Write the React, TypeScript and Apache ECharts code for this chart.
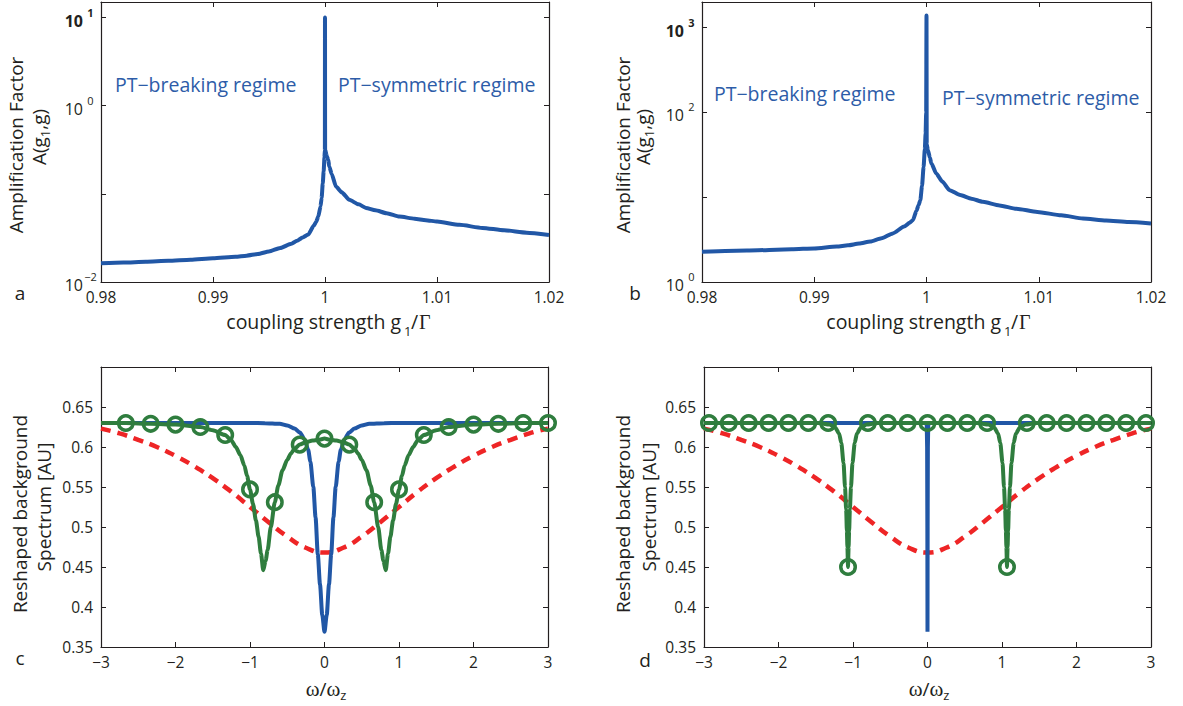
import React, { useEffect, useRef } from 'react';
import * as echarts from 'echarts';

// ---------------- data ----------------
// Panel a : amplification factor vs coupling strength g1/Γ
const couplingA = [0.980, 0.982, 0.984, 0.986, 0.988, 0.990, 0.992, 0.993, 0.994, 0.995, 0.996, 0.997, 0.9975, 0.998, 0.9985, 0.999, 0.9992, 0.9994, 0.9996, 0.9997, 0.9998, 0.99988, 0.99995, 0.99999, 1.0, 1.00001, 1.00015, 1.00029, 1.00038, 1.0006, 1.00098, 1.0015, 1.00217, 1.003, 1.00366, 1.0045, 1.0055, 1.00664, 1.008, 1.009, 1.01001, 1.012, 1.01405, 1.016, 1.018, 1.020];
const amplificationA = [0.0163, 0.0166, 0.0170, 0.0174, 0.0179, 0.0186, 0.0193, 0.0199, 0.0208, 0.0222, 0.0243, 0.0272, 0.0293, 0.032, 0.0345, 0.0436, 0.048, 0.0552, 0.072, 0.09, 0.132, 0.18, 0.26, 0.316, 10, 0.32, 0.27, 0.243, 0.204, 0.168, 0.121, 0.104, 0.0855, 0.076, 0.0693, 0.065, 0.0603, 0.0552, 0.0523, 0.0503, 0.0484, 0.0445, 0.0411, 0.0386, 0.0363, 0.0342];

// Panel b
const couplingB = [0.980, 0.984, 0.988, 0.990, 0.992, 0.993, 0.994, 0.995, 0.996, 0.997, 0.998, 0.9985, 0.99879, 0.9991, 0.9993, 0.99945, 0.9996, 0.99974, 0.99985, 0.99992, 0.99997, 1.0, 1.00002, 1.00013, 1.0003, 1.00044, 1.00087, 1.0014, 1.00206, 1.003, 1.004, 1.00502, 1.0065, 1.008, 1.00987, 1.012, 1.01393, 1.016, 1.018, 1.020];
const amplificationB = [2.27, 2.35, 2.43, 2.49, 2.62, 2.71, 2.84, 3.0, 3.28, 3.74, 4.5, 5.0, 5.36, 6.9, 8.1, 9.22, 13.5, 22.7, 37, 56.6, 100, 1390, 42, 35.7, 29.3, 24.9, 19.0, 15.3, 12.1, 10.6, 9.6, 8.81, 8.0, 7.3, 6.71, 6.11, 5.61, 5.32, 5.1, 4.91];

// labelled decades of the log axes
const decadesA = [-2, 0, 1];
const decadesB = [0, 2, 3];

// Red dashed background (panels c and d)
const omegaRed = [-3, -2.75, -2.5, -2.25, -2, -1.75, -1.5, -1.25, -1, -0.75, -0.5, -0.25, 0, 0.25, 0.5, 0.75, 1, 1.25, 1.5, 1.75, 2, 2.25, 2.5, 2.75, 3];
const spectrumRed = [0.623, 0.617, 0.609, 0.600, 0.589, 0.576, 0.561, 0.544, 0.525, 0.506, 0.488, 0.474, 0.468, 0.474, 0.488, 0.506, 0.525, 0.544, 0.561, 0.576, 0.589, 0.600, 0.609, 0.617, 0.623];

// Panel c blue
const omegaBlueC = [-3, -1.5, -1, -0.8, -0.6, -0.5, -0.4, -0.33, -0.27, -0.22, -0.19, -0.15, -0.12, -0.09, -0.06, -0.03, 0, 0.03, 0.06, 0.09, 0.12, 0.15, 0.19, 0.22, 0.27, 0.33, 0.4, 0.5, 0.6, 0.8, 1, 1.5, 3];
const spectrumBlueC = [0.630, 0.630, 0.630, 0.6298, 0.629, 0.627, 0.623, 0.618, 0.610, 0.597, 0.582, 0.550, 0.512, 0.466, 0.428, 0.390, 0.369, 0.390, 0.428, 0.466, 0.512, 0.550, 0.582, 0.597, 0.610, 0.618, 0.623, 0.627, 0.629, 0.6298, 0.630, 0.630, 0.630];

// Panel c green
const omegaGreenC = [-3, -2.667, -2.333, -2, -1.667, -1.5, -1.333, -1.25, -1.19, -1.13, -1.076, -1.04, -1.0, -0.96, -0.92, -0.885, -0.853, -0.822, -0.79, -0.764, -0.72, -0.667, -0.62, -0.563, -0.5, -0.45, -0.4, -0.333, -0.25, -0.16, -0.08, 0, 0.08, 0.16, 0.25, 0.333, 0.4, 0.45, 0.5, 0.563, 0.62, 0.667, 0.72, 0.764, 0.79, 0.822, 0.853, 0.885, 0.92, 0.96, 1.0, 1.04, 1.076, 1.13, 1.19, 1.25, 1.333, 1.5, 1.667, 2, 2.333, 2.667, 3];
const spectrumGreenC = [0.630, 0.630, 0.629, 0.628, 0.625, 0.621, 0.615, 0.608, 0.600, 0.590, 0.577, 0.564, 0.547, 0.529, 0.508, 0.488, 0.467, 0.446, 0.458, 0.471, 0.500, 0.531, 0.552, 0.571, 0.584, 0.592, 0.598, 0.603, 0.606, 0.608, 0.609, 0.6105, 0.609, 0.608, 0.606, 0.603, 0.598, 0.592, 0.584, 0.571, 0.552, 0.531, 0.500, 0.471, 0.458, 0.446, 0.467, 0.488, 0.508, 0.529, 0.547, 0.564, 0.577, 0.590, 0.600, 0.608, 0.615, 0.621, 0.625, 0.628, 0.629, 0.630, 0.630];
const omegaMarkC = [-2.667, -2.333, -2, -1.667, -1.333, -1, -0.667, -0.333, 0, 0.333, 0.667, 1, 1.333, 1.667, 2, 2.333, 2.667, 3];
const spectrumMarkC = [0.630, 0.629, 0.628, 0.625, 0.615, 0.547, 0.531, 0.603, 0.6105, 0.603, 0.531, 0.547, 0.615, 0.625, 0.628, 0.629, 0.630, 0.630];

// Panel d blue
const omegaBlueD = [-3, -0.02, -0.01, -0.005, -0.002, 0, 0.002, 0.005, 0.01, 0.02, 3];
const spectrumBlueD = [0.630, 0.630, 0.627, 0.600, 0.500, 0.369, 0.500, 0.600, 0.627, 0.630, 0.630];

// Panel d green
const omegaGreenD = [-3, -1.467, -1.317, -1.237, -1.187, -1.157, -1.127, -1.107, -1.092, -1.082, -1.075, -1.067, -1.059, -1.052, -1.042, -1.027, -1.007, -0.977, -0.947, -0.897, -0.817, -0.667, 0.667, 0.817, 0.897, 0.947, 0.977, 1.007, 1.027, 1.042, 1.052, 1.059, 1.067, 1.075, 1.082, 1.092, 1.107, 1.127, 1.157, 1.187, 1.237, 1.317, 1.467, 3];
const spectrumGreenD = [0.630, 0.630, 0.628, 0.624, 0.617, 0.605, 0.580, 0.550, 0.522, 0.495, 0.475, 0.450, 0.475, 0.495, 0.522, 0.550, 0.580, 0.605, 0.617, 0.624, 0.628, 0.630, 0.630, 0.628, 0.624, 0.617, 0.605, 0.580, 0.550, 0.522, 0.495, 0.475, 0.450, 0.475, 0.495, 0.522, 0.550, 0.580, 0.605, 0.617, 0.624, 0.628, 0.630, 0.630];
const omegaMarkD = [-2.933, -2.667, -2.4, -2.133, -1.867, -1.6, -1.333, -1.067, -0.8, -0.533, -0.267, 0, 0.267, 0.533, 0.8, 1.067, 1.333, 1.6, 1.867, 2.133, 2.4, 2.667, 2.933];
const spectrumMarkD = [0.63, 0.63, 0.63, 0.63, 0.63, 0.63, 0.63, 0.45, 0.63, 0.63, 0.63, 0.63, 0.63, 0.63, 0.63, 0.45, 0.63, 0.63, 0.63, 0.63, 0.63, 0.63, 0.63];

// ---------------- styles ----------------
const FONT = '"Open Sans", "Noto Sans", sans-serif';
const SERIF = '"Liberation Serif", "DejaVu Serif", serif';
const INK = '#231f20';
const BLUE = '#2157a6';
const GREEN = '#2f7d3e';
const RED = '#ee2526';
const TEXT_BLUE = '#2d5ca8';

const pairs = (xs: number[], ys: number[]) => xs.map((x, i) => [x, ys[i]]);

const grids = [
  { left: 101, top: 2, width: 448, height: 280 },
  { left: 702, top: 2, width: 449, height: 280 },
  { left: 101, top: 367, width: 447, height: 280 },
  { left: 704, top: 367, width: 447, height: 280 },
];

const axisLine = { show: true, onZero: false, lineStyle: { color: INK, width: 1.2 } };
const axisTick = { show: true, inside: true, length: 5, lineStyle: { color: INK, width: 1 } };
const noSplit = { show: false };
const tickFont = { color: INK, fontFamily: FONT, fontSize: 15.5, lineHeight: 16 };

const minusFmt = (v: number) => {
  const s = String(parseFloat(v.toFixed(2)));
  return s.replace('-', '\u2212');
};

function xAxes(g: number, min: number, max: number, interval: number) {
  return [
    { type: 'value', gridIndex: g, position: 'bottom', min, max, interval, axisLine, axisTick, splitLine: noSplit, axisLabel: { ...tickFont, margin: 7, formatter: minusFmt } },
    { type: 'value', gridIndex: g, position: 'top', min, max, interval, axisLine, axisTick, splitLine: noSplit, axisLabel: { show: false } },
  ];
}

const logRich = {
  b: { fontSize: 16, fontFamily: FONT, color: INK, padding: [6, 0, 0, 0] },
  e: { fontSize: 11, fontFamily: FONT, color: INK, padding: [0, 0, 11, 0], width: 15, align: 'left' },
  bb: { fontSize: 16, fontFamily: FONT, color: INK, fontWeight: 'bold', padding: [6, 0, 0, 0] },
  eb: { fontSize: 11, fontFamily: FONT, color: INK, fontWeight: 'bold', padding: [0, 0, 11, 0], width: 15, align: 'left' },
};

function logYAxes(g: number, min: number, max: number, decades: number[]) {
  const top = decades[decades.length - 1];
  const fmt = (v: number) => {
    const l = Math.log10(v);
    const e = Math.round(l);
    if (Math.abs(l - e) > 1e-6 || decades.indexOf(e) < 0) return '';
    const ex = e < 0 ? '\u2212' + -e : String(e);
    return e === top ? `{bb|10}{eb|${ex}}` : `{b|10}{e|${ex}}`;
  };
  return [
    { type: 'log', logBase: 10, gridIndex: g, position: 'left', min, max, axisLine, axisTick, splitLine: noSplit, axisLabel: { margin: 3, formatter: fmt, rich: logRich } },
    { type: 'log', logBase: 10, gridIndex: g, position: 'right', min, max, axisLine, axisTick, splitLine: noSplit, axisLabel: { show: false } },
  ];
}

function linYAxes(g: number) {
  const fmt = (v: number) => (v > 0.66 ? '' : String(parseFloat(v.toFixed(2))));
  return [
    { type: 'value', gridIndex: g, position: 'left', min: 0.35, max: 0.7, interval: 0.05, axisLine, axisTick, splitLine: noSplit, axisLabel: { ...tickFont, margin: 8, formatter: fmt } },
    { type: 'value', gridIndex: g, position: 'right', min: 0.35, max: 0.7, interval: 0.05, axisLine, axisTick, splitLine: noSplit, axisLabel: { show: false } },
  ];
}

const subRich = {
  sub: { fontSize: 13, fontFamily: FONT, fill: INK, color: INK, padding: [11, 0, 0, 0] },
  w: { fontSize: 21, fontFamily: SERIF, fill: INK, color: INK },
};

function label(x: number, y: number, text: string, opts: any = {}) {
  const size = opts.size || 19;
  return {
    type: 'text',
    x,
    y,
    rotation: opts.rotate ? Math.PI / 2 : 0,
    silent: true,
    style: {
      text,
      fill: opts.color || INK,
      fontSize: size,
      fontFamily: opts.family || FONT,
      lineHeight: opts.lineHeight || Math.round(size * 1.1),
      align: opts.align || 'center',
      textAlign: opts.align || 'center',
      verticalAlign: 'middle',
      textVerticalAlign: 'middle',
      rich: subRich,
    },
  };
}

// "coupling strength g₁/Γ" built from pieces, anchored at the right end of "g"
function couplingTitle(gRight: number) {
  return [
    label(gRight, 321, 'coupling strength g', { align: 'right', size: 19.5 }),
    label(gRight + 3, 331, '1', { align: 'left', size: 13 }),
    label(gRight + 10, 321, '/', { align: 'left', size: 19.5 }),
    label(gRight + 18, 322, '\u0393', { align: 'left', size: 20, family: SERIF }),
  ];
}

const lineSeries = (xi: number, data: number[][], color: string, extra: any = {}) => ({
  type: 'line',
  xAxisIndex: xi,
  yAxisIndex: xi,
  data,
  showSymbol: false,
  symbol: 'none',
  smooth: 0.25,
  smoothMonotone: 'x',
  lineStyle: { color, width: 4 },
  itemStyle: { color },
  z: 2,
  ...extra,
});

const markerSeries = (xi: number, data: number[][]) => ({
  type: 'scatter',
  xAxisIndex: xi,
  yAxisIndex: xi,
  data,
  symbol: 'circle',
  symbolSize: 14.5,
  clip: false,
  itemStyle: { color: 'rgba(0,0,0,0)', borderColor: GREEN, borderWidth: 3.5, opacity: 1 },
  z: 3,
});

const redStyle = { smooth: 0.5, smoothMonotone: undefined, lineStyle: { color: RED, width: 4.5, type: [10, 7] } };

export default function App() {
  const ref = useRef<HTMLDivElement>(null);
  useEffect(() => {
    if (!ref.current) return;
    const chart = echarts.init(ref.current, undefined, { renderer: 'svg' });
    const option: any = {
      animation: false,
      backgroundColor: '#ffffff',
      grid: grids,
      xAxis: [
        ...xAxes(0, 0.98, 1.02, 0.01),
        ...xAxes(1, 0.98, 1.02, 0.01),
        ...xAxes(2, -3, 3, 1),
        ...xAxes(3, -3, 3, 1),
      ],
      yAxis: [
        ...logYAxes(0, 0.01, 15, decadesA),
        ...logYAxes(1, 1, 2000, decadesB),
        ...linYAxes(2),
        ...linYAxes(3),
      ],
      series: [
        lineSeries(0, pairs(couplingA, amplificationA), BLUE, { smooth: 0.2 }),
        lineSeries(2, pairs(couplingB, amplificationB), BLUE, { smooth: 0.2 }),
        lineSeries(4, pairs(omegaRed, spectrumRed), RED, redStyle),
        lineSeries(4, pairs(omegaBlueC, spectrumBlueC), BLUE),
        lineSeries(4, pairs(omegaGreenC, spectrumGreenC), GREEN),
        markerSeries(4, pairs(omegaMarkC, spectrumMarkC)),
        lineSeries(6, pairs(omegaRed, spectrumRed), RED, redStyle),
        lineSeries(6, pairs(omegaBlueD, spectrumBlueD), BLUE, { smooth: false }),
        lineSeries(6, pairs(omegaGreenD, spectrumGreenD), GREEN),
        markerSeries(6, pairs(omegaMarkD, spectrumMarkD)),
      ],
      graphic: [
        // region annotations
        label(115, 84, 'PT\u2212breaking regime', { align: 'left', color: TEXT_BLUE, size: 19.5 }),
        label(338, 84, 'PT\u2212symmetric regime', { align: 'left', color: TEXT_BLUE, size: 19.5 }),
        label(714, 93, 'PT\u2212breaking regime', { align: 'left', color: TEXT_BLUE, size: 19.5 }),
        label(942, 97, 'PT\u2212symmetric regime', { align: 'left', color: TEXT_BLUE, size: 19.5 }),
        // y titles
        label(16, 145, 'Amplification Factor', { rotate: true }),
        label(39, 137, 'A(g{sub|1},g)', { rotate: true }),
        label(623, 145, 'Amplification Factor', { rotate: true }),
        label(643, 137, 'A(g{sub|1},g)', { rotate: true }),
        label(20, 514, 'Reshaped background', { rotate: true }),
        label(44, 507, 'Spectrum [AU]', { rotate: true }),
        label(623, 514, 'Reshaped background', { rotate: true }),
        label(649, 507, 'Spectrum [AU]', { rotate: true }),
        // x titles
        ...couplingTitle(401),
        ...couplingTitle(1001),
        label(326, 689, '{w|\u03c9}/{w|\u03c9}{sub|z}'),
        label(929, 689, '{w|\u03c9}/{w|\u03c9}{sub|z}'),
        // panel letters
        label(20, 293, 'a'),
        label(635, 293, 'b'),
        label(20, 658, 'c'),
        label(645, 660, 'd'),
      ],
    };
    chart.setOption(option);
    return () => chart.dispose();
  }, []);
  return (
    <div
      ref={ref}
      style={{ position: 'absolute', left: 0, top: 0, width: 1183, height: 706, background: '#fff' }}
    />
  );
}
